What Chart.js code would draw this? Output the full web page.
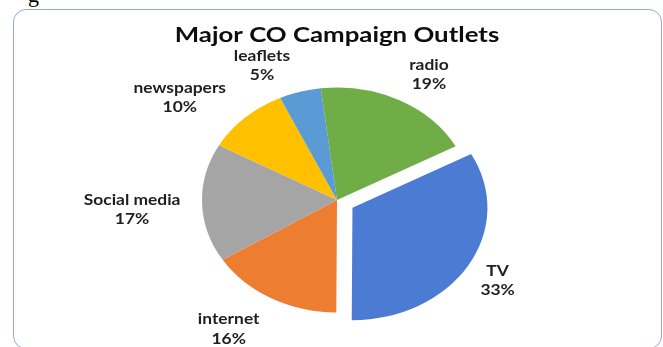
<!DOCTYPE html>
<html>
<head>
<meta charset="utf-8">
<script src="https://cdn.jsdelivr.net/npm/chart.js@4"></script>
<style>
  html, body { margin: 0; padding: 0; background: #fff; }
  body { width: 663px; height: 347px; position: relative; overflow: hidden; }
  #grafico { position: absolute; left: 0; top: 0; }
  #moldura {
    position: absolute; left: 13px; top: 9px; width: 649px; height: 340px;
    border: 1.5px solid #8FAADC; border-radius: 13px; box-sizing: border-box;
    pointer-events: none;
  }
  #corte { position: absolute; left: 28px; top: -18px; font: 22px "Liberation Serif"; color: #000; }
</style>
</head>
<body>
<div id="corte">g</div>
<canvas id="grafico" width="663" height="347"></canvas>
<div id="moldura"></div>
<script>
// DADOS
const categorias = ['TV', 'internet', 'Social media', 'newspapers', 'leaflets', 'radio'];
const valores = [33, 16, 17, 10, 5, 19];
const titulo = 'Major CO Campaign Outlets';

// ESTILO
const cores = ['#4C7BD4', '#ED7D31', '#A5A5A5', '#FFC000', '#5B9BD5', '#70AD47'];
const ESTICA = 1.2;     // a figura original é esticada na horizontal
const DESTAQUE = 0;     // fatia separada (TV)
const AFASTA = 15;      // quanto a fatia sai do centro

// ajuste fino dos rótulos (graus em relação ao meio da fatia, px além do raio)
const rotuloAngulo = [0, 6, -1.5, -9, -9, 4];
const rotuloDistancia = [43.5, 44.5, 58.5, 54, 36, 35];

function textoEsticado(ctx, txt, x, y) {
  ctx.save();
  ctx.translate(x, y);
  ctx.scale(ESTICA, 1);
  ctx.fillText(txt, 0, 0);
  ctx.restore();
}

// desenha as fatias esticadas (elipse) e afasta a fatia em destaque
const pluginElipse = {
  id: 'elipse',
  beforeDatasetsDraw(chart) {
    const arcos = chart.getDatasetMeta(0).data;
    const cx = arcos[0].x;
    const ctx = chart.ctx;
    ctx.save();
    ctx.translate(cx, 0);
    ctx.scale(ESTICA, 1);
    ctx.translate(-cx, 0);
    arcos.forEach((arco, i) => {
      ctx.save();
      if (i === DESTAQUE) {
        const meio = (arco.startAngle + arco.endAngle) / 2;
        ctx.translate(Math.cos(meio) * AFASTA, Math.sin(meio) * AFASTA);
      }
      arco.draw(ctx, chart.chartArea);
      ctx.restore();
    });
    ctx.restore();
    return false;
  }
};

// título e rótulos
const pluginTextos = {
  id: 'textos',
  afterDraw(chart) {
    const ctx = chart.ctx;
    const arcos = chart.getDatasetMeta(0).data;
    const total = valores.reduce((a, b) => a + b, 0);
    const cx = arcos[0].x;

    ctx.save();
    ctx.textAlign = 'center';
    ctx.textBaseline = 'alphabetic';
    ctx.fillStyle = '#0d0d0d';
    ctx.font = 'bold 21.5px Lato';
    textoEsticado(ctx, titulo, cx, 42);

    ctx.font = 'bold 14.5px Lato';
    ctx.fillStyle = '#1f1f1f';
    ctx.textBaseline = 'middle';
    arcos.forEach((arco, i) => {
      const meio = (arco.startAngle + arco.endAngle) / 2 + rotuloAngulo[i] * Math.PI / 180;
      const d = arco.outerRadius + rotuloDistancia[i];
      const x = arco.x + Math.cos(meio) * d * ESTICA;
      const y = arco.y + Math.sin(meio) * d;
      const pct = Math.round(valores[i] / total * 100) + '%';
      textoEsticado(ctx, categorias[i], x, y - 9);
      textoEsticado(ctx, pct, x, y + 10.5);
    });
    ctx.restore();
  }
};

new Chart(document.getElementById('grafico'), {
  type: 'pie',
  data: {
    labels: categorias,
    datasets: [{
      data: valores,
      backgroundColor: cores,
      borderWidth: 0,
      radius: 112.5
    }]
  },
  options: {
    responsive: false,
    animation: false,
    rotation: 61.5,
    layout: { padding: { left: 11, top: 53, right: 0, bottom: 0 } },
    plugins: {
      legend: { display: false },
      title: { display: false },
      tooltip: { enabled: false }
    }
  },
  plugins: [pluginElipse, pluginTextos]
});
</script>
</body>
</html>
